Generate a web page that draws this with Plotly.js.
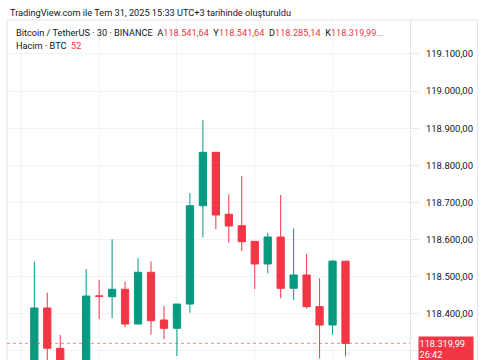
<!DOCTYPE html>
<html>
<head>
<meta charset="utf-8">
<script src="https://cdn.plot.ly/plotly-3.0.1.min.js"></script>
<style>
  html, body { margin: 0; padding: 0; background: #ffffff; }
  #chart { width: 485px; height: 360px; }
</style>
</head>
<body>
<div id="chart"></div>
<script>
// ---- data (30-minute BTC/USDT candles, Jul 31 2025, UTC+3) ----
const times = [
  "2025-07-31 03:30", "2025-07-31 04:00", "2025-07-31 04:30", "2025-07-31 05:00",
  "2025-07-31 05:30", "2025-07-31 06:00", "2025-07-31 06:30", "2025-07-31 07:00",
  "2025-07-31 07:30", "2025-07-31 08:00", "2025-07-31 08:30", "2025-07-31 09:00",
  "2025-07-31 09:30", "2025-07-31 10:00", "2025-07-31 10:30", "2025-07-31 11:00",
  "2025-07-31 11:30", "2025-07-31 12:00", "2025-07-31 12:30", "2025-07-31 13:00",
  "2025-07-31 13:30", "2025-07-31 14:00", "2025-07-31 14:30", "2025-07-31 15:00",
  "2025-07-31 15:30"
];
const openVals = [
  118240, 118415.4, 118306.7, 118262, 118240, 118447.7, 118445.8, 118465.8,
  118372.2, 118511.6, 118383, 118360.6, 118426, 118691, 118835, 118668,
  118637, 118595, 118534, 118606.7, 118468.4, 118504.3, 118419, 118369.5,
  118541.64
];
const highVals = [
  118540.5, 118456.6, 118342.6, 118270, 118520.5, 118491, 118600.5, 118486.3,
  118550, 118541, 118420.8, 118426, 118725.3, 118922, 118835, 118721.8,
  118771, 118595, 118617.5, 118720, 118630, 118561, 118495.4, 118545,
  118541.64
];
const lowVals = [
  118220, 118262, 118235, 118215, 118228, 118385.7, 118387.6, 118364,
  118372.2, 118343.4, 118331, 118286, 118402.7, 118606, 118628.3, 118591.4,
  118569, 118466.6, 118509, 118441.5, 118437, 118414, 118280, 118343.4,
  118285.14
];
const closeVals = [
  118415.4, 118306.7, 118262, 118240, 118447.7, 118447.2, 118465.8, 118372.2,
  118511.6, 118381.2, 118360.6, 118426, 118691, 118835, 118666, 118636.4,
  118594, 118534, 118606.7, 118468.4, 118504.3, 118419, 118369.5, 118541.64,
  118319.99
];
const yTickVals = [118300, 118400, 118500, 118600, 118700, 118800, 118900, 119000, 119100];
const volumeLast = "52";
const countdown = "26:42";
const headerText = "TradingView.com ile Tem 31, 2025 15:33 UTC+3 tarihinde oluşturuldu";
const symbolText = "Bitcoin / TetherUS · 30 · BINANCE";
const volumeLabel = "Hacim · BTC";

// ---- helpers ----
const UP = "#089981", DOWN = "#F23645", TXT = "#131722";
function fmt(v) {
  const s = v.toFixed(2).split(".");
  return s[0].replace(/\B(?=(\d{3})+(?!\d))/g, ".") + "," + s[1];
}
const W = 485, H = 360, L = 7, R = 410, T = 20, B = 360;
const px = x => (x - L) / (R - L);
const py = y => (B - y) / (B - T);

const n = closeVals.length - 1;
const lastClose = closeVals[n];
const red = t => '<span style="color:' + DOWN + '">' + t + '</span>';
const sp = "\u00A0\u00A0";
const line1 = symbolText + sp + "A" + red(fmt(openVals[n])) + sp + "Y" + red(fmt(highVals[n])) +
  sp + "D" + red(fmt(lowVals[n])) + sp + "K" + red(fmt(closeVals[n]) + "...");
const line2 = volumeLabel + sp + red(volumeLast);

// tick labels hidden behind the last-price label are left blank (as in the reference)
const yTickText = yTickVals.map(v => (Math.abs(v - lastClose) < 60 ? "" : fmt(v)));

const trace = {
  type: "candlestick",
  x: times, open: openVals, high: highVals, low: lowVals, close: closeVals,
  increasing: { line: { color: UP, width: 1 }, fillcolor: UP },
  decreasing: { line: { color: DOWN, width: 1 }, fillcolor: DOWN },
  whiskerwidth: 0,
  hoverinfo: "skip"
};

const fam = "Roboto, 'Noto Sans', sans-serif";
const font = { family: fam, size: 9.2, color: TXT };
const tickFont = { family: fam, size: 9.5, color: TXT };

const layout = {
  width: W, height: H,
  margin: { l: L, r: W - R, t: T, b: H - B, pad: 0 },
  paper_bgcolor: "#ffffff", plot_bgcolor: "#ffffff",
  showlegend: false,
  separators: ",.",
  boxgap: 0.2,
  font: font,
  xaxis: {
    type: "date",
    range: ["2025-07-31 02:26:48", "2025-07-31 17:59:12"],
    rangeslider: { visible: false },
    showticklabels: false, ticks: "",
    showgrid: true, gridcolor: "#f0f3fa", gridwidth: 1,
    tick0: "2025-07-31 00:00", dtick: 3 * 3600 * 1000,
    zeroline: false, showline: false, fixedrange: true
  },
  yaxis: {
    side: "right",
    range: [118275.2, 119191.6],
    tickmode: "array",
    tickvals: yTickVals,
    ticktext: yTickText,
    showgrid: true, gridcolor: "#f0f3fa", gridwidth: 1,
    ticks: "outside", ticklen: 8, tickcolor: "#e6e9f0", tickwidth: 1,
    ticklabelstandoff: 5,
    showline: true, linecolor: "#e0e3eb", linewidth: 1,
    zeroline: false, fixedrange: true,
    tickfont: tickFont
  },
  shapes: [
    { type: "rect", xref: "paper", yref: "paper", x0: 0, x1: px(477.5), y0: -0.2, y1: 1,
      line: { color: "#e0e3eb", width: 1 }, layer: "above" },
    { type: "line", xref: "paper", yref: "y", x0: 0, x1: 1, y0: lastClose, y1: lastClose,
      line: { color: "rgba(242,54,69,0.6)", width: 1, dash: "dot" }, layer: "above" }
  ],
  annotations: [
    { text: headerText, xref: "paper", yref: "paper", x: px(8), y: py(12),
      xanchor: "left", yanchor: "middle", showarrow: false, font: font },
    { text: line1, xref: "paper", yref: "paper", x: px(14), y: py(33),
      xanchor: "left", yanchor: "middle", showarrow: false, font: font },
    { text: line2, xref: "paper", yref: "paper", x: px(14), y: py(46),
      xanchor: "left", yanchor: "middle", showarrow: false, font: font },
    { text: fmt(lastClose) + "<br>" + countdown, xref: "paper", yref: "y",
      x: 1, y: lastClose, xanchor: "left", yanchor: "top", xshift: 8, yshift: 7,
      showarrow: false, align: "left", bgcolor: DOWN, borderpad: 0.5,
      width: 53, font: { family: fam, size: 9.2, color: "#ffffff" } }
  ]
};

Plotly.newPlot("chart", [trace], layout, { displayModeBar: false, staticPlot: true });
</script>
</body>
</html>
